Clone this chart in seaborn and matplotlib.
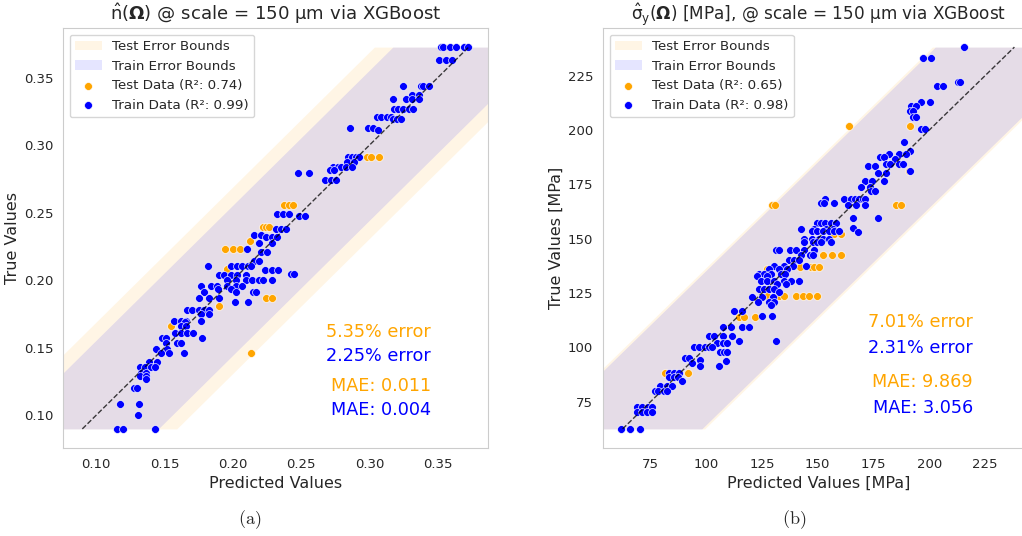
import numpy as np
import pandas as pd
import matplotlib
matplotlib.use("Agg")
import matplotlib.pyplot as plt
from matplotlib.ticker import MultipleLocator
import seaborn as sns

# (true value, [predicted values])

# panel (a): n_hat
n_test_rows = [
    (0.2912, [0.2984, 0.3011, 0.3072]),
    (0.2553, [0.2376, 0.2413, 0.2437]),
    (0.2392, [0.2218, 0.2242, 0.2266]),
    (0.2293, [0.2125]),
    (0.2231, [0.1942, 0.2003, 0.2054]),
    (0.2080, [0.1961]),
    (0.1868, [0.2242, 0.2285]),
    (0.1806, [0.1900]),
    (0.1663, [0.1547]),
    (0.1458, [0.2137]),
]
n_train_rows = [
    (0.3725, [0.352, 0.354, 0.359, 0.363, 0.369, 0.372]),
    (0.3628, [0.3506, 0.356, 0.360]),
    (0.3438, [0.3242, 0.3377, 0.3394, 0.3438]),
    (0.3374, [0.331, 0.3365]),
    (0.3344, [0.3169, 0.3267, 0.3311, 0.336]),
    (0.3270, [0.3182, 0.3206, 0.3243, 0.3291, 0.3316]),
    (0.3208, [0.3055, 0.3084, 0.3128, 0.3157]),
    (0.3196, [0.3169, 0.3198, 0.323]),
    (0.3129, [0.2859, 0.2991, 0.3028]),
    (0.3115, [0.3064]),
    (0.2912, [0.2845, 0.2874, 0.2901, 0.2925]),
    (0.2875, [0.2832, 0.2889]),
    (0.2837, [0.2735, 0.2772, 0.2791, 0.2828, 0.2871]),
    (0.2812, [0.2711, 0.2742]),
    (0.2793, [0.2479, 0.2554]),
    (0.2738, [0.2676, 0.2718, 0.2755]),
    (0.2491, [0.2327, 0.2364, 0.2408]),
    (0.2475, [0.2481, 0.253]),
    (0.2380, [0.2315, 0.2352, 0.2389]),
    (0.2335, [0.2157, 0.2206]),
    (0.2320, [0.2242, 0.229, 0.2327]),
    (0.2274, [0.2193, 0.229]),
    (0.2231, [0.2105]),
    (0.2207, [0.2206, 0.2254]),
    (0.2145, [0.2157, 0.2193]),
    (0.2103, [0.1817, 0.1986, 0.2034, 0.2071, 0.2108, 0.2132]),
    (0.2076, [0.2235, 0.2284, 0.2332]),
    (0.2046, [0.2425, 0.245]),
    (0.2039, [0.19, 0.1937, 0.1986, 0.2034, 0.2096]),
    (0.2004, [0.1961, 0.2023, 0.2096, 0.2144, 0.2193, 0.2223, 0.229]),
    (0.1960, [0.1766, 0.184, 0.1888, 0.1961, 0.2023, 0.2071]),
    (0.1935, [0.189, 0.199]),
    (0.1911, [0.1791, 0.2023, 0.2149, 0.2169]),
    (0.1868, [0.1754, 0.1827, 0.19]),
    (0.1841, [0.2018, 0.2115]),
    (0.1781, [0.1668, 0.1705, 0.1754, 0.1791, 0.1827]),
    (0.1749, [0.1766, 0.1827]),
    (0.1700, [0.1571, 0.162, 0.1657, 0.1766]),
    (0.1688, [0.165]),
    (0.1663, [0.162, 0.1657]),
    (0.1613, [0.1578, 0.162, 0.1668, 0.171]),
    (0.1571, [0.1481, 0.151, 0.1778]),
    (0.1532, [0.151, 0.1595, 0.162]),
    (0.1490, [0.1441, 0.1522]),
    (0.1465, [0.1473, 0.1534, 0.1644]),
    (0.1398, [0.1388, 0.1449]),
    (0.1358, [0.1322, 0.1359, 0.14, 0.1432]),
    (0.1317, [0.1327, 0.1364]),
    (0.1292, [0.1322, 0.1368]),
    (0.1267, [0.1364]),
    (0.1200, [0.1278, 0.1302]),
    (0.1087, [0.1173, 0.1315]),
    (0.1000, [0.131]),
    (0.0900, [0.1152, 0.12, 0.1432]),
]

# panel (b): sigma_y [MPa]
s_test_rows = [
    (202.0, [163.9, 191.2]),
    (181.1, [190.8]),
    (165.4, [129.6, 130.9, 185.2, 187.2]),
    (152.4, [157.4, 160.5]),
    (142.3, [152.2, 156.3, 160.5]),
    (137.1, [142.0, 147.0, 148.4, 150.7]),
    (135.9, [127.4]),
    (123.5, [127.4, 132.7, 134.8, 140.2, 143.5, 146.2, 149.6]),
    (113.9, [114.6, 117.1, 121.7]),
    (88.0, [81.6, 91.7]),
]
s_train_rows = [
    (238.2, [215.6]),
    (233.1, [197.2, 201.0]),
    (222.0, [213.0, 213.8]),
    (220.5, [203.3, 206.2]),
    (212.8, [196.5, 200.2]),
    (211.2, [191.7, 194.2]),
    (208.9, [191.2, 192.7]),
    (206.1, [192.7, 194.2]),
    (200.5, [196.2, 198.3]),
    (194.3, [188.5]),
    (190.3, [191.2]),
    (188.8, [181.9, 186.4, 189.4]),
    (187.4, [178.0, 179.5]),
    (186.5, [184.5]),
    (184.3, [180.4, 182.2, 186.3, 188.2]),
    (183.4, [172.6, 175.9]),
    (181.1, [191.2]),
    (180.3, [177.0, 180.8]),
    (176.5, [171.4, 174.4, 179.5]),
    (173.6, [169.5, 173.5]),
    (172.0, [174.0, 175.9]),
    (168.2, [153.3, 162.0, 165.0, 166.5, 168.7, 170.2, 171.0]),
    (166.6, [151.4, 152.9, 157.4]),
    (165.4, [163.4, 167.2, 171.0]),
    (159.5, [165.7, 177.0]),
    (157.3, [149.9, 151.4, 153.4, 155.9, 158.2]),
    (155.1, [166.0]),
    (154.5, [142.4, 148.4, 153.7, 157.0]),
    (153.4, [147.4, 149.9, 152.5, 154.9, 157.4, 159.7]),
    (153.1, [168.0]),
    (150.0, [143.9, 147.4, 150.4, 152.5, 155.2]),
    (148.5, [143.9, 147.7, 149.5, 151.4, 155.9]),
    (145.0, [131.2, 132.7, 137.5, 140.2, 143.9, 148.4]),
    (142.3, [142.4, 146.5, 148.1]),
    (140.0, [137.2, 139.4, 141.8]),
    (137.4, [130.4, 135.0, 138.7, 144.7]),
    (135.9, [128.2, 132.7, 136.4]),
    (133.9, [123.7, 126.0, 129.0, 133.5, 135.4]),
    (132.7, [122.6, 127.4]),
    (130.5, [124.4, 127.4, 130.4, 135.0, 137.9, 141.4]),
    (129.3, [131.9, 136.0]),
    (127.0, [123.7, 126.0, 128.2, 130.4]),
    (125.7, [132.7]),
    (123.4, [120.4, 124.9, 130.0]),
    (120.8, [123.3, 128.2, 130.4]),
    (119.3, [129.0]),
    (116.6, [112.4, 115.9]),
    (114.3, [124.8, 129.3]),
    (109.6, [107.4, 110.9, 115.9, 119.1]),
    (105.4, [101.1, 103.4, 107.4, 111.6]),
    (103.1, [114.6, 131.2]),
    (101.9, [104.9, 107.4, 109.4]),
    (100.4, [94.4, 96.6, 99.6, 101.1, 102.6]),
    (97.7, [106.4, 107.9, 109.4]),
    (95.2, [90.3, 92.1]),
    (94.2, [97.4]),
    (93.6, [108.7]),
    (92.9, [93.6]),
    (91.6, [97.1, 105.6]),
    (88.0, [83.1, 85.4, 87.6]),
    (86.2, [83.1, 85.4, 87.2]),
    (84.7, [89.1]),
    (82.4, [79.4, 82.3, 84.6]),
    (80.1, [77.1, 78.6, 80.9, 82.3]),
    (72.7, [68.8, 71.1, 74.1, 75.6]),
    (70.1, [68.8, 71.1, 73.3, 75.6]),
    (62.5, [61.8, 65.9, 70.4]),
]

n_bounds = (0.069, 0.0555)     # test, train half widths
s_bounds = (36.8, 35.5)
n_r2 = ("0.74", "0.99")
s_r2 = ("0.65", "0.98")
n_notes = ["5.35% error", "2.25% error", "MAE: 0.011", "MAE: 0.004"]
s_notes = ["7.01% error", "2.31% error", "MAE: 9.869", "MAE: 3.056"]


def to_df(rows):
    t, p = [], []
    for true, preds in rows:
        for v in preds:
            t.append(true)
            p.append(v)
    return pd.DataFrame({"pred": p, "true": t})


def panel(ax, test_rows, train_rows, bounds, r2, notes, note_x, note_y,
          title, title_size, xlabel, ylabel, step):
    te = to_df(test_rows)
    tr = to_df(train_rows)
    lo = min(te.true.min(), tr.true.min())
    hi = max(te.true.max(), tr.true.max())
    yy = np.array([lo, hi])
    ax.fill_betweenx(yy, yy - bounds[0], yy + bounds[0], color="orange",
                     alpha=0.1, lw=0, label="Test Error Bounds")
    ax.fill_betweenx(yy, yy - bounds[1], yy + bounds[1], color="blue",
                     alpha=0.1, lw=0, label="Train Error Bounds")
    sns.scatterplot(data=te, x="pred", y="true", color="orange", ax=ax, s=32,
                    label=f"Test Data (R\u00b2: {r2[0]})")
    sns.scatterplot(data=tr, x="pred", y="true", color="blue", ax=ax, s=32,
                    label=f"Train Data (R\u00b2: {r2[1]})")
    ax.plot(yy, yy, "k--", lw=1, alpha=0.75, zorder=5)
    pad = 0.05 * (hi - lo)
    ax.set_xlim(lo - pad, hi + pad)
    ax.set_ylim(lo - pad, hi + pad)
    ax.xaxis.set_major_locator(MultipleLocator(step))
    ax.yaxis.set_major_locator(MultipleLocator(step))
    ax.tick_params(labelsize=9.5)
    ax.grid(False)
    ax.set_title(title, fontsize=title_size)
    ax.set_xlabel(xlabel, fontsize=11.5)
    ax.set_ylabel(ylabel, fontsize=11.5, labelpad=3)
    ax.legend(loc="upper left", fontsize=9.6)
    cols = ["orange", "blue", "orange", "blue"]
    for txt, c, yv in zip(notes, cols, note_y):
        ax.text(note_x, yv, txt, color=c, fontsize=12.7, ha="right",
                va="center", transform=ax.transAxes)


sns.set_style("whitegrid")

fig = plt.figure(figsize=(10.22, 5.36), dpi=100)
ax1 = fig.add_axes([63 / 1022, 88 / 536, 425 / 1022, 420 / 536])
ax2 = fig.add_axes([603 / 1022, 88 / 536, 431 / 1022, 420 / 536])

panel(ax1, n_test_rows, n_train_rows, n_bounds, n_r2, n_notes, 0.866,
      [0.276, 0.219, 0.148, 0.090],
      r"$\hat{\mathrm{n}}(\mathbf{\Omega})$ @ scale = 150 μm via XGBoost", 13.1,
      "Predicted Values", "True Values", 0.05)
panel(ax2, s_test_rows, s_train_rows, s_bounds, s_r2, s_notes, 0.858,
      [0.300, 0.238, 0.157, 0.095],
      r"$\hat{\mathrm{\sigma}}_{\mathrm{y}}(\mathbf{\Omega})$ [MPa], @ scale = 150 μm via XGBoost",
      12.2, "Predicted Values [MPa]", "True Values [MPa]", 25)

fig.text(250 / 1022, 1 - 520 / 536, r"$\mathrm{(a)}$", math_fontfamily="cm",
         ha="center", va="center", fontsize=13)
fig.text(794 / 1022, 1 - 520 / 536, r"$\mathrm{(b)}$", math_fontfamily="cm",
         ha="center", va="center", fontsize=13)

fig.savefig("out.png", dpi=100)
